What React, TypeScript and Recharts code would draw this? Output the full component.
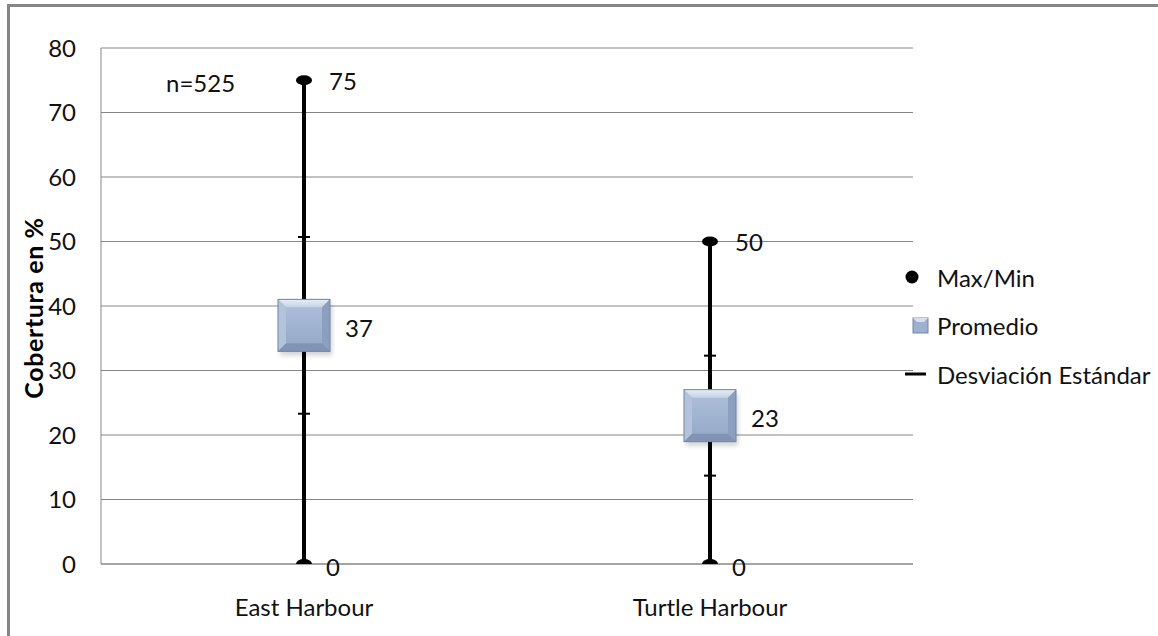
import React from 'react';
import {
  ComposedChart,
  Bar,
  Scatter,
  ErrorBar,
  XAxis,
  YAxis,
  CartesianGrid,
  LabelList,
} from 'recharts';

// Sites and summary statistics of coverage (%)
const sites = ['East Harbour', 'Turtle Harbour'];
const maxValues = [75, 50];
const minValues = [0, 0];
const meanValues = [37, 23];
const sdValues = [13.7, 9.3];
const yTicks = [0, 10, 20, 30, 40, 50, 60, 70, 80];
const legendItems = ['Max/Min', 'Promedio', 'Desviación Estándar'];
const sampleNote = 'n=525';
const yTitle = 'Cobertura en %';

const data = sites.map((site, i) => ({
  site,
  range: [minValues[i], maxValues[i]],
  max: maxValues[i],
  min: minValues[i],
  mean: meanValues[i],
  sd: sdValues[i],
}));

const FONT = 'Lato, "Noto Sans", sans-serif';
const FS = 24;
const GRID = '#868686';

// Filled ellipse for the maximum markers
const MaxDot = (props: any) => {
  const { cx, cy } = props;
  if (cx == null || cy == null) return null;
  return <ellipse cx={cx} cy={cy} rx={8} ry={5} fill="#000" />;
};

// Minimum markers sit on the baseline, so only their upper half is visible
const MinDot = (props: any) => {
  const { cx, cy } = props;
  if (cx == null || cy == null) return null;
  const rx = 8;
  const ry = 5;
  return <path d={`M${cx - rx},${cy} A${rx},${ry} 0 0 1 ${cx + rx},${cy} Z`} fill="#000" />;
};

// Bevelled square for the mean
const MeanBox = (props: any) => {
  const { cx, cy } = props;
  if (cx == null || cy == null) return null;
  const s = 52;
  const b = 8;
  const x0 = cx - s / 2;
  const y0 = cy - s / 2;
  const x1 = x0 + s;
  const y1 = y0 + s;
  return (
    <g>
      <rect x={x0 + 2} y={y0 + 4} width={s} height={s} fill="#000" opacity={0.18} filter="url(#boxShadow)" />
      <rect x={x0} y={y0} width={s} height={s} fill="url(#boxFace)" />
      <polygon points={`${x0},${y0} ${x1},${y0} ${x1 - b},${y0 + b} ${x0 + b},${y0 + b}`} fill="url(#bevelTop)" />
      <polygon points={`${x0},${y0} ${x0 + b},${y0 + b} ${x0 + b},${y1 - b} ${x0},${y1}`} fill="#b3c3dc" />
      <polygon points={`${x1},${y0} ${x1},${y1} ${x1 - b},${y1 - b} ${x1 - b},${y0 + b}`} fill="#8c9fbe" />
      <polygon points={`${x0},${y1} ${x0 + b},${y1 - b} ${x1 - b},${y1 - b} ${x1},${y1}`} fill="#8194b4" />
      <rect x={x0} y={y0} width={s} height={s} fill="none" stroke="#72839f" strokeWidth={1} />
    </g>
  );
};

const valueLabel = (dx: number, dy: number) => (props: any) => {
  const { x, y, width, height, value } = props;
  const cx = x + (width || 0) / 2;
  const cy = y + (height || 0) / 2;
  return (
    <text x={cx + dx} y={cy + dy} fill="#111" fontSize={FS} fontFamily={FONT} dominantBaseline="central">
      {Math.round(value)}
    </text>
  );
};

const YTitle = (props: any) => {
  const { viewBox } = props;
  const x = viewBox.x - 18;
  const y = viewBox.y + viewBox.height / 2 + 2;
  return (
    <text
      x={x}
      y={y}
      transform={`rotate(-90 ${x} ${y})`}
      textAnchor="middle"
      dominantBaseline="central"
      fontSize={25}
      fontWeight={700}
      fontFamily={FONT}
      letterSpacing={0.6}
      fill="#000"
    >
      {yTitle}
    </text>
  );
};

const LegendBox = () => (
  <svg width={258} height={130} style={{ display: 'block' }}>
    <circle cx={12} cy={17} r={6.5} fill="#000" />
    <text x={37} y={17} fontSize={FS} fontFamily={FONT} fill="#111" dominantBaseline="central">
      {legendItems[0]}
    </text>
    <rect x={13} y={58} width={15} height={15} fill="#9db0cd" stroke="#7486a3" />
    <polygon points="13,58 28,58 24,62 17,62" fill="#d5dfee" />
    <text x={37} y={65} fontSize={FS} fontFamily={FONT} fill="#111" dominantBaseline="central">
      {legendItems[1]}
    </text>
    <line x1={5} y1={114} x2={26} y2={114} stroke="#000" strokeWidth={3} />
    <text x={37} y={114} fontSize={FS} fontFamily={FONT} fill="#111" dominantBaseline="central">
      {legendItems[2]}
    </text>
  </svg>
);

export default function App() {
  return (
    <div
      style={{
        position: 'absolute',
        left: 0,
        top: 0,
        width: 1158,
        height: 636,
        overflow: 'hidden',
        background: '#fff',
      }}
    >
      <div
        style={{
          position: 'absolute',
          left: 7,
          top: 4,
          width: 1200,
          height: 700,
          border: '3px solid #868686',
          boxSizing: 'border-box',
        }}
      />
      <ComposedChart
        width={1158}
        height={636}
        data={data}
        margin={{ top: 48, right: 245, bottom: 42, left: 51 }}
        style={{ position: 'absolute', left: 0, top: 0 }}
      >
        <defs>
          <linearGradient id="boxFace" x1="0" y1="0" x2="0" y2="1">
            <stop offset="0%" stopColor="#afc0da" />
            <stop offset="100%" stopColor="#93a7c7" />
          </linearGradient>
          <linearGradient id="bevelTop" x1="0" y1="0" x2="0" y2="1">
            <stop offset="0%" stopColor="#e6edf7" />
            <stop offset="100%" stopColor="#c4d2e7" />
          </linearGradient>
          <filter id="boxShadow" x="-20%" y="-20%" width="140%" height="140%">
            <feGaussianBlur stdDeviation="2.5" />
          </filter>
        </defs>
        <CartesianGrid vertical={false} stroke={GRID} strokeWidth={1} />
        <XAxis
          dataKey="site"
          height={30}
          axisLine={{ stroke: GRID }}
          tickLine={false}
          tickSize={0}
          tickMargin={35}
          tick={{ fontSize: FS, fontFamily: FONT, fill: '#111' }}
        />
        <YAxis
          width={50}
          domain={[0, 80]}
          ticks={yTicks}
          interval={0}
          axisLine={{ stroke: GRID }}
          tickLine={false}
          tickSize={0}
          tickMargin={25}
          tick={{ fontSize: FS, fontFamily: FONT, fill: '#111' }}
          label={<YTitle />}
        />
        <Bar dataKey="range" barSize={4} fill="#000" isAnimationActive={false} legendType="none" />
        <Scatter dataKey="max" shape={MaxDot} isAnimationActive={false}>
          <LabelList dataKey="max" content={valueLabel(25, 0)} />
        </Scatter>
        <Scatter dataKey="min" shape={MinDot} isAnimationActive={false}>
          <LabelList dataKey="min" content={valueLabel(22, 2)} />
        </Scatter>
        <Scatter dataKey="mean" shape={MeanBox} isAnimationActive={false}>
          <ErrorBar dataKey="sd" direction="y" width={6} stroke="#000" strokeWidth={2} />
          <LabelList dataKey="mean" content={valueLabel(41, 2)} />
        </Scatter>
      </ComposedChart>
      <div style={{ position: 'absolute', left: 900, top: 260 }}>
        <LegendBox />
      </div>
      <div
        style={{
          position: 'absolute',
          left: 166,
          top: 69,
          fontSize: FS,
          fontFamily: FONT,
          color: '#111',
          lineHeight: '28px',
        }}
      >
        {sampleNote}
      </div>
    </div>
  );
}
